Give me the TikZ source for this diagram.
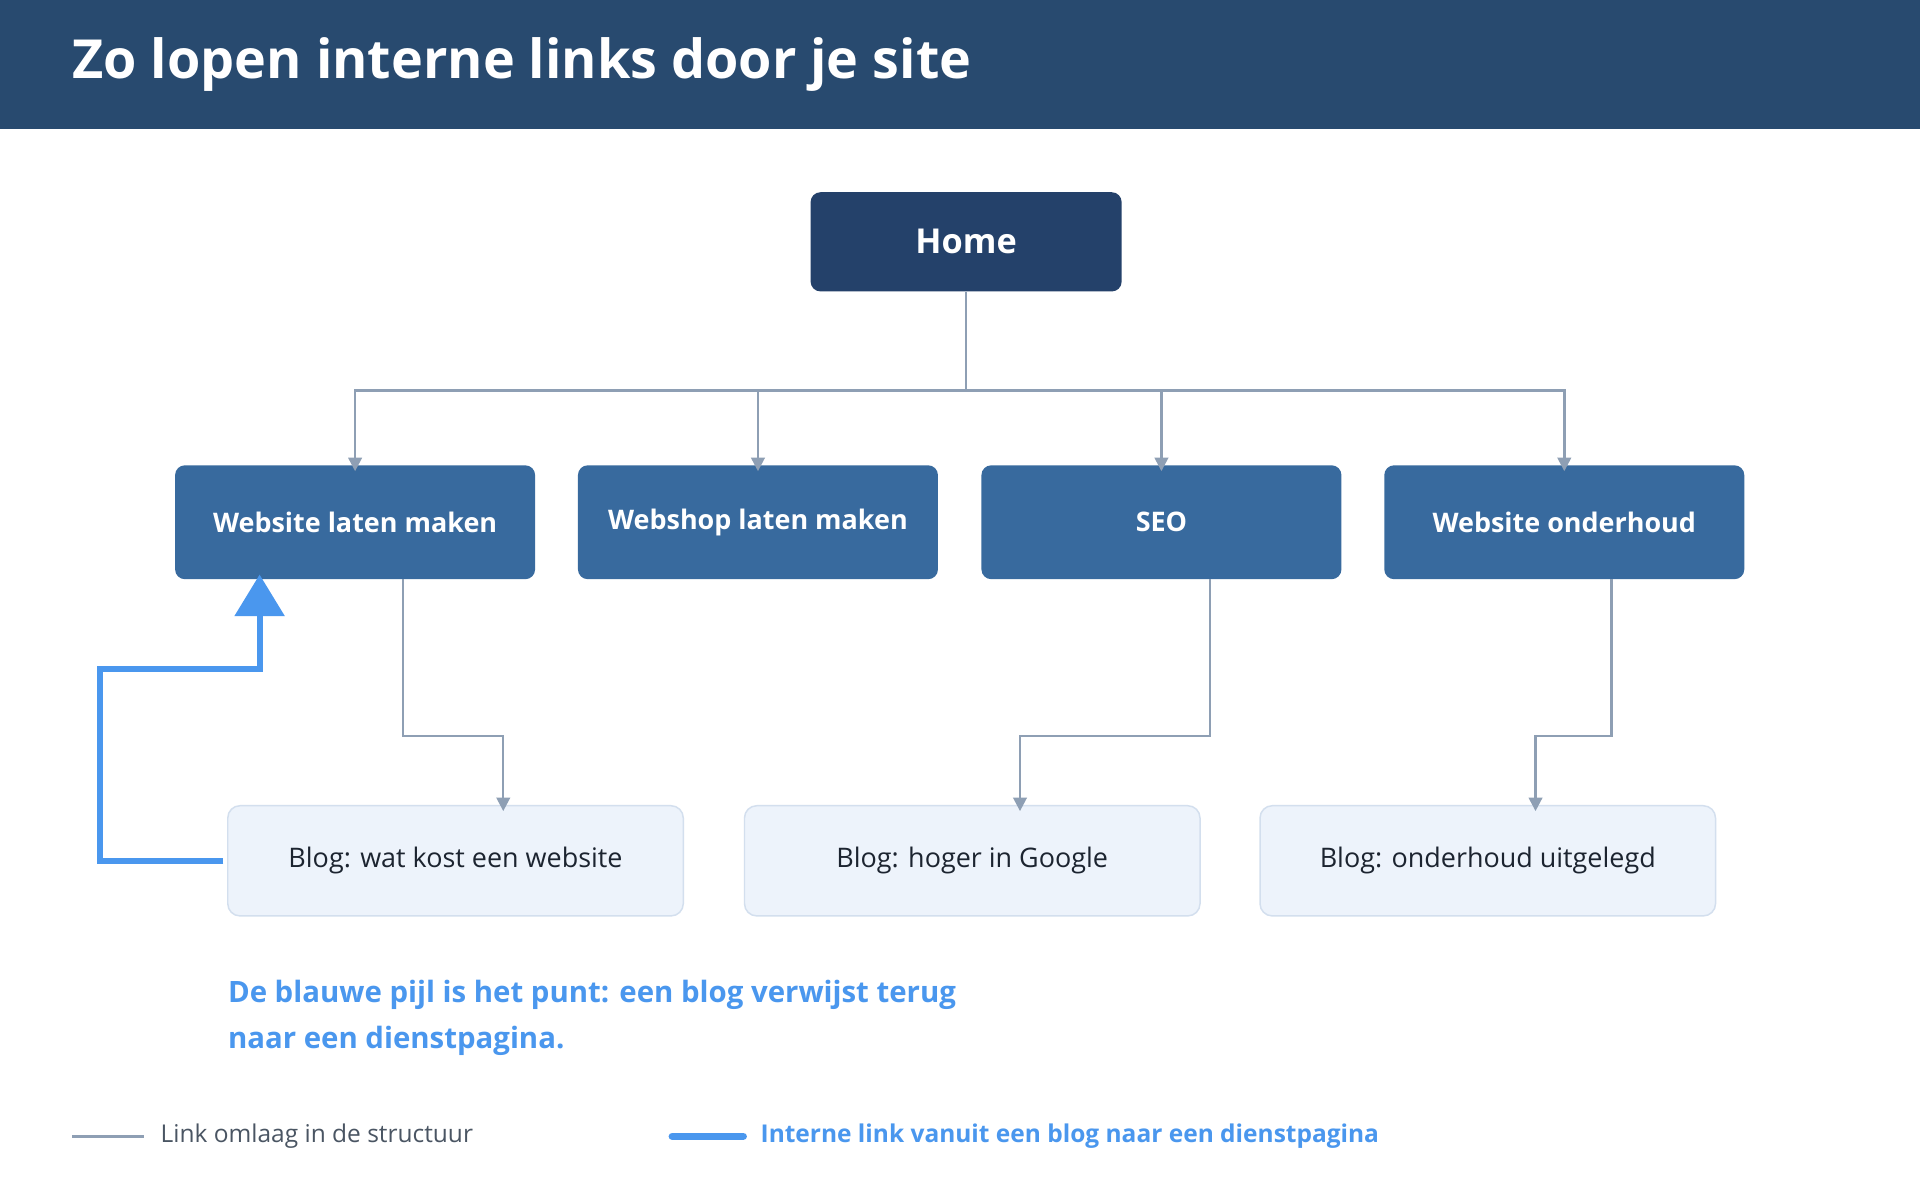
\documentclass[tikz,border=0pt]{standalone}
\usepackage{fontspec}
\setmainfont{Open Sans}
\usetikzlibrary{arrows.meta}
\definecolor{navy}{HTML}{284A6F}
\definecolor{homec}{HTML}{24416A}
\definecolor{svc}{HTML}{386A9E}
\definecolor{blogf}{HTML}{EDF3FB}
\definecolor{blogd}{HTML}{D3DFEE}
\definecolor{gline}{HTML}{8E9FB4}
\definecolor{blue}{HTML}{4A97EE}
\definecolor{txt}{HTML}{1C2430}
\definecolor{leg}{HTML}{4A5563}
\begin{document}
\begin{tikzpicture}[x=1pt,y=-1pt,
  svcs/.style={draw=none,fill=svc,rounded corners=8pt,minimum width=294pt,minimum height=93pt,text=white,font=\fontsize{22}{26}\selectfont\bfseries,inner sep=0pt},
  blog/.style={draw=blogd,line width=1.2pt,fill=blogf,rounded corners=10pt,minimum width=372pt,minimum height=90pt,text=txt,font=\fontsize{22}{26}\selectfont,inner sep=0pt},
  tree/.style={draw=gline,line width=2pt,-{Triangle[length=11pt,width=11pt]}},
]
\useasboundingbox (0,0) rectangle (1568,980);
\fill[white] (0,0) rectangle (1568,980);
\fill[navy] (0,0) rectangle (1568,105);
\node[anchor=west,text=white,font=\fontsize{44}{50}\selectfont\bfseries,inner sep=0pt] (title) at (59,53) {Zo lopen interne links door je site};
\node[fill=homec,rounded corners=8pt,minimum width=254pt,minimum height=81pt,text=white,font=\fontsize{28}{32}\selectfont\bfseries,inner sep=0pt] (home) at (789,197.5) {Home};
\node[svcs] (s1) at (290,426.5) {Website laten maken};
\node[svcs] (s2) at (619,426.5) {Webshop laten maken};
\node[svcs] (s3) at (948.5,426.5) {SEO};
\node[svcs] (s4) at (1277.5,426.5) {Website onderhoud};
\node[blog] (b1) at (372,703) {Blog: wat kost een website};
\node[blog] (b2) at (794,703) {Blog: hoger in Google};
\node[blog] (b3) at (1215,703) {Blog: onderhoud uitgelegd};
\coordinate (j) at (789,319);
\draw[gline,line width=2pt] (home.south) -- (j);
\foreach \s in {s1,s2,s3,s4}{\draw[tree] (j) -| ([yshift=-5pt]\s.north);}
\draw[tree] (s1.south -| 329,0) |- (411,601) -- ([yshift=-5pt]b1.north -| 411,0);
\draw[tree] (s3.south -| 988,0) |- (833,601) -- ([yshift=-5pt]b2.north -| 833,0);
\draw[tree] (s4.south -| 1316,0) |- (1254,601) -- ([yshift=-5pt]b3.north -| 1254,0);
\draw[blue,line width=5pt,-{Triangle[length=34pt,width=40pt]}] ([xshift=-3pt]b1.west) -- (82,703) -- (82,546) -- (212,546) -- ([yshift=4pt]s1.south -| 212,0);
\node[anchor=north west,align=left,text=blue,font=\fontsize{24}{38}\selectfont\bfseries,inner sep=0pt] (cap) at (186,800) {De blauwe pijl is het punt: een blog verwijst terug\\naar een dienstpagina.};
\coordinate (l1a) at (59,928); \coordinate (l1b) at (118,928);
\draw[gline,line width=2pt] (l1a) -- (l1b);
\node[anchor=west,text=leg,font=\fontsize{20}{24}\selectfont,inner sep=0pt] (lt1) at (131,928) {Link omlaag in de structuur};
\coordinate (l2a) at (549,928); \coordinate (l2b) at (607,928);
\draw[blue,line width=6pt,line cap=round] (l2a) -- (l2b);
\node[anchor=west,text=blue,font=\fontsize{20}{24}\selectfont\bfseries,inner sep=0pt] (lt2) at (621,928) {Interne link vanuit een blog naar een dienstpagina};
\end{tikzpicture}
\end{document}
